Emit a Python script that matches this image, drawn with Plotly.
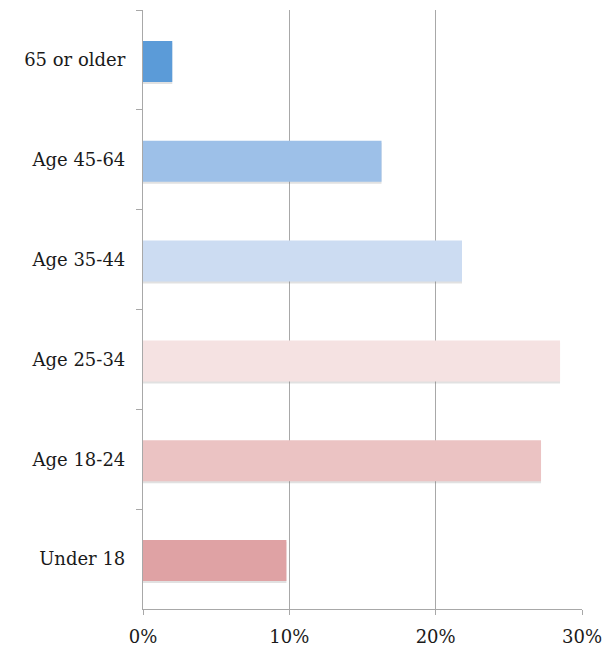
import plotly.graph_objects as go

# Age groups, listed top to bottom
age_groups = ["65 or older", "Age 45-64", "Age 35-44", "Age 25-34", "Age 18-24", "Under 18"]
shares = [2.0, 16.3, 21.8, 28.5, 27.2, 9.8]
bar_colors = ["#5B9BD8", "#9DC0E8", "#CCDCF2", "#F5E2E2", "#EBC3C3", "#DFA2A4"]

x_ticks = [0, 10, 20, 30]
x_tick_labels = ["0%", "10%", "20%", "30%"]

FONT = "DejaVu Serif"

fig = go.Figure()

# soft drop shadow beneath each bar
fig.add_trace(go.Bar(
    y=age_groups, x=shares, orientation="h",
    width=0.41, offset=-0.17,
    marker=dict(color="rgba(120,120,120,0.22)", line=dict(width=0)),
    hoverinfo="skip", showlegend=False,
))

fig.add_trace(go.Bar(
    y=age_groups, x=shares, orientation="h",
    width=0.41, offset=-0.19,
    marker=dict(color=bar_colors, line=dict(width=0)),
    showlegend=False,
))

fig.update_layout(
    width=603, height=650,
    margin=dict(l=143, r=21, t=10, b=41, autoexpand=False),
    paper_bgcolor="white", plot_bgcolor="white",
    barmode="overlay",
    font=dict(family=FONT, size=18, color="#1a1a1a"),
    xaxis=dict(
        range=[0, 30],
        tickvals=x_ticks, ticktext=x_tick_labels,
        showgrid=True, gridcolor="#A8A8A8", gridwidth=1.2,
        zeroline=False,
        showline=True, linecolor="#A8A8A8", linewidth=1.2,
        ticks="outside", ticklen=5, tickcolor="#A8A8A8",
        ticklabelstandoff=6,
        tickfont=dict(family=FONT, size=18, color="#1a1a1a"),
    ),
    yaxis=dict(
        autorange="reversed",
        showgrid=False, zeroline=False,
        showline=True, linecolor="#A8A8A8", linewidth=1.2,
        ticks="outside", tickson="boundaries", ticklen=6, tickcolor="#A8A8A8",
        ticklabelstandoff=13,
        tickfont=dict(family=FONT, size=18, color="#1a1a1a"),
    ),
)

fig.write_html("out.html")
